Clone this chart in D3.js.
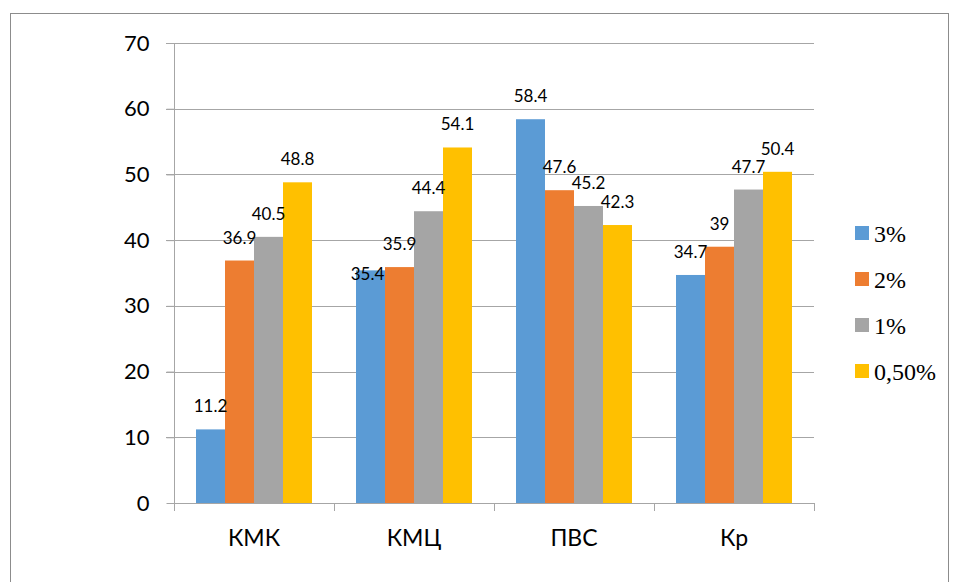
<!DOCTYPE html>
<html><head><meta charset="utf-8">
<script src="https://cdn.jsdelivr.net/npm/d3@7"></script>
<style>body{margin:0;background:#fff}svg{display:block}</style>
</head><body>
<svg id="c" width="956" height="582"></svg>
<script>
const categories = ["КМК", "КМЦ", "ПВС", "Кр"];
const seriesNames = ["3%", "2%", "1%", "0,50%"];
const s3 = [11.2, 35.4, 58.4, 34.7];
const s2 = [36.9, 35.9, 47.6, 39];
const s1 = [40.5, 44.4, 45.2, 47.7];
const s05 = [48.8, 54.1, 42.3, 50.4];
const yTicks = [0, 10, 20, 30, 40, 50, 60, 70];
const colors = ["#5B9BD5", "#ED7D31", "#A5A5A5", "#FFC000"];
const seriesValues = [s3, s2, s1, s05];

const svg = d3.select("#c");
svg.append("rect").attr("x", 10.5).attr("y", 13.5).attr("width", 938).attr("height", 600)
  .attr("fill", "none").attr("stroke", "#8c8c8c").attr("stroke-width", 1);

const pL = 174, pR = 814, pT = 43, pB = 503;
const x = d3.scaleBand().domain(categories).range([pL, pR]).padding(0);
const xi = d3.scaleBand().domain(seriesNames).range([22, x.bandwidth() - 22]).padding(0);
const y = d3.scaleLinear().domain([0, 70]).range([pB, pT]);

const font = "Lato, 'Open Sans', sans-serif";

// gridlines
svg.append("g").selectAll("line").data(yTicks.filter(d => d > 0)).join("line")
  .attr("x1", pL - 8).attr("x2", pR).attr("y1", d => Math.round(y(d)) + 0.5).attr("y2", d => Math.round(y(d)) + 0.5)
  .attr("stroke", "#a6a6a6").attr("stroke-width", 1);

// bars and labels
const gb = svg.append("g"), gl = svg.append("g");
categories.forEach((c, ci) => {
  seriesNames.forEach((s, si) => {
    const v = seriesValues[si][ci];
    gb.append("rect").attr("x", x(c) + xi(s)).attr("y", y(v))
      .attr("width", xi.bandwidth()).attr("height", y(0) - y(v)).attr("fill", colors[si]);
    // Excel-like collision avoidance: if the next label sits at nearly the same height, drop this one inside the bar top
    const next = si < seriesNames.length - 1 ? seriesValues[si + 1][ci] : null;
    const clash = next !== null && Math.abs(y(v) - y(next)) < 10;
    const lx = x(c) + xi(s) + xi.bandwidth() / 2 + (clash ? -3 : 0);
    const ly = clash ? y(v) + 10 : y(v) - 17;
    gl.append("text").attr("x", lx).attr("y", ly)
      .attr("text-anchor", "middle").attr("font-family", font).attr("font-size", 17)
      .attr("fill", "#000").text(v);
  });
});

// y axis
const ya = svg.append("g").attr("transform", `translate(${pL + 0.5},0)`)
  .call(d3.axisLeft(y).tickValues(yTicks).tickSize(8).tickPadding(17).tickFormat(d3.format("d")));
ya.select(".domain").attr("stroke", "#a6a6a6").attr("d", `M0,${pT}V${pB}`);
ya.selectAll(".tick line").attr("stroke", "#a6a6a6");
ya.selectAll(".tick text").attr("font-family", font).attr("font-size", 22).attr("fill", "#000");

// x axis
const xa = svg.append("g").attr("transform", `translate(0,${pB + 0.5})`)
  .call(d3.axisBottom(x).tickSize(0).tickPadding(26));
xa.select(".domain").attr("stroke", "#a6a6a6").attr("d", `M${pL},0H${pR}`);
xa.selectAll(".tick text").attr("font-family", font).attr("font-size", 23).attr("fill", "#000");
svg.append("g").selectAll("line").data(d3.range(categories.length + 1)).join("line")
  .attr("x1", i => Math.round(pL + i * x.bandwidth()) + 0.5).attr("x2", i => Math.round(pL + i * x.bandwidth()) + 0.5)
  .attr("y1", pB).attr("y2", pB + 8).attr("stroke", "#a6a6a6");

// legend
const lg = svg.append("g");
seriesNames.forEach((s, i) => {
  const cy = 233 + i * 46;
  lg.append("rect").attr("x", 855).attr("y", cy - 7).attr("width", 14).attr("height", 14).attr("fill", colors[i]);
  lg.append("text").attr("x", 874).attr("y", cy + 9).attr("font-family", "'Liberation Serif', 'Times New Roman', serif")
    .attr("font-size", 24).attr("fill", "#000").text(s);
});
</script>
</body></html>
